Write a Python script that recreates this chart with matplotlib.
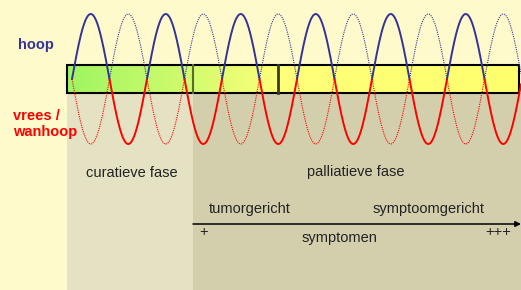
import numpy as np
import matplotlib.pyplot as plt
from matplotlib.colors import LinearSegmentedColormap
from matplotlib.patches import Rectangle

plt.rcParams['font.family'] = ['Liberation Sans', 'DejaVu Sans']

# Labels
emotions = ['hoop', 'vrees /\nwanhoop']
phases = ['curatieve fase', 'palliatieve fase']
care_focus = ['tumorgericht', 'symptoomgericht']
symptom_scale = ['+', 'symptomen', '+++']

# Wave parameters (in pixels of the 521x290 picture)
wave_start = 72
wave_period = 75
wave_amp = 65
wave_center = 79

# Phase boundaries along x
phase_edges = [67, 193, 521]
bar_dividers = [193, 278]

blue = '#333399'
red = '#ff0000'
text_col = '#222222'

fig = plt.figure(figsize=(5.21, 2.90), dpi=100)
fig.patch.set_facecolor('#fffacb')
ax = fig.add_axes([0, 0, 1, 1])
ax.set_xlim(0, 521)
ax.set_ylim(290, 0)
ax.axis('off')

# shaded phase areas below the bar
ax.add_patch(Rectangle((phase_edges[0], 93), phase_edges[1] - phase_edges[0], 200,
                       facecolor='#e5e1c3', edgecolor='none', zorder=1))
ax.add_patch(Rectangle((phase_edges[1], 93), phase_edges[2] - phase_edges[1], 200,
                       facecolor='#d3cfad', edgecolor='none', zorder=1))

# gradient bar
cmap = LinearSegmentedColormap.from_list(
    'bar', [(0, '#9ff562'), (0.28, '#d4fb6e'), (0.47, '#ffff7a'), (1, '#ffff6e')])
grad = np.linspace(0, 1, 400).reshape(1, -1)
ax.imshow(grad, cmap=cmap, aspect='auto', extent=[67, 519, 93, 65], zorder=2)
ax.add_patch(Rectangle((67, 65), 452, 28, facecolor='none', edgecolor='black',
                       linewidth=1.5, zorder=4))
ax.plot([bar_dividers[0]] * 2, [65, 93], color='#5a6b2a', linewidth=1.5, zorder=4)
ax.plot([bar_dividers[1]] * 2, [65, 93], color='#3a3a20', linewidth=2, zorder=4)

# waves: solid one and dotted one in counter-phase
x = np.linspace(wave_start, 521, 3000)
wave = wave_center - wave_amp * np.sin(2 * np.pi * (x - wave_start) / wave_period)
for sign, ls, lw in [(1, '-', 1.4), (-1, (0, (1, 1)), 0.8)]:
    y = wave_center + sign * (wave - wave_center)
    up = np.where(y <= wave_center, y, np.nan)
    down = np.where(y >= wave_center, y, np.nan)
    ax.plot(x, up, color=blue, linestyle=ls, linewidth=lw, zorder=5)
    ax.plot(x, down, color=red, linestyle=ls, linewidth=lw, zorder=5)

# emotion labels
ax.text(18, 45, emotions[0], color=blue, fontsize=10.5, fontweight='bold',
        ha='left', va='center')
ax.text(13, 124, emotions[1], color=red, fontsize=10.5, fontweight='bold',
        ha='left', va='center', linespacing=1.25)

# phase labels
ax.text(132, 173, phases[0], color=text_col, fontsize=10.5, ha='center', va='center')
ax.text(356, 172, phases[1], color=text_col, fontsize=10.5, ha='center', va='center')

ax.text(250, 209, care_focus[0], color=text_col, fontsize=10.5, ha='center', va='center')
ax.text(429, 209, care_focus[1], color=text_col, fontsize=10.5, ha='center', va='center')

# symptom arrow
ax.annotate('', xy=(521, 224), xytext=(193, 224),
            arrowprops=dict(arrowstyle='-|>', color='black', linewidth=1.1,
                            mutation_scale=8, shrinkA=0, shrinkB=0))
ax.text(204, 232, symptom_scale[0], color=text_col, fontsize=10.5, ha='center', va='center')
ax.text(340, 238, symptom_scale[1], color=text_col, fontsize=10.5, ha='center', va='center')
ax.text(498, 232, symptom_scale[2], color=text_col, fontsize=10.5, ha='center', va='center')

fig.savefig('out.png', dpi=100, facecolor=fig.get_facecolor())
